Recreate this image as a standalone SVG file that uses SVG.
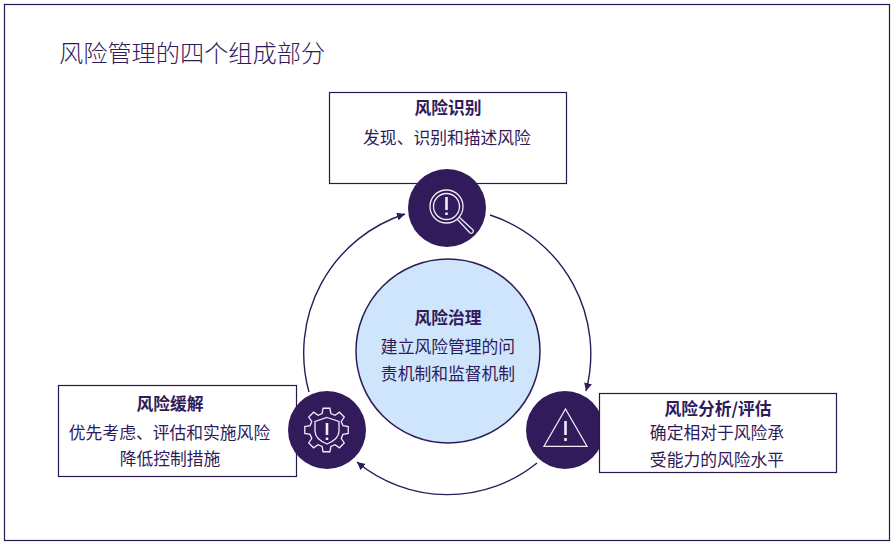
<svg xmlns="http://www.w3.org/2000/svg" width="896" height="544" viewBox="0 0 896 544">
<style>
text{font-family:"Noto Sans CJK SC","Noto Sans",sans-serif;fill:#2f1a5a;text-anchor:middle;font-size:16.8px}
.h{font-weight:700}
.t{text-anchor:start;font-size:24.2px;font-weight:300}
.box{fill:#fff;stroke:#2a1650;stroke-width:1.2}
.dot{fill:#311b5b}
.ic{fill:none;stroke:#f1ecf8;stroke-width:1.3}
.mk{fill:none;stroke:#f1ecf8;stroke-width:2.6}
.arc{fill:none;stroke:#2f1a5a;stroke-width:1.4;marker-end:url(#a)}
</style>
<defs><marker id="a" markerUnits="userSpaceOnUse" markerWidth="10" markerHeight="10" refX="8" refY="4" orient="auto"><path d="M0 0L8 4L0 8Z" fill="#2f1a5a"/></marker></defs>
<rect width="896" height="544" fill="#fff"/>
<rect x="4.500" y="4.500" width="885" height="536" fill="none" stroke="#2a1650" stroke-width="1.2"/>
<text class="t" x="59" y="62">风险管理的四个组成部分</text>
<g id="connectors">
<path class="arc" d="M490 215A146 146 0 0 1 586 391"/>
<path class="arc" d="M537 463A142 142 0 0 1 357 462"/>
<path class="arc" d="M309 392A146 146 0 0 1 405 214"/>
</g>
<g id="governance">
<circle cx="448" cy="351" r="92" fill="#cfe5fb" stroke="#2f1a5a" stroke-width="1.5"/>
<text class="h" x="448" y="324">风险治理</text>
<text x="448" y="353">建立风险管理的问</text>
<text x="448" y="380">责机制和监督机制</text>
</g>
<g id="identify">
<rect class="box" x="329.500" y="92.500" width="237" height="91"/>
<text class="h" x="448" y="114">风险识别</text>
<text x="447" y="144">发现、识别和描述风险</text>
<circle class="dot" cx="447" cy="208" r="39"/>
<circle class="ic" cx="446.500" cy="206.500" r="16.500"/>
<circle class="ic" cx="446.500" cy="206.500" r="13"/>
<path class="ic" d="M457 219L470 233Q472 234 473 232Q474 230 472 229L459 217"/>
<path class="mk" d="M446.500 197V210M446.500 212.500V215"/>
</g>
<g id="analysis">
<circle class="dot" cx="565" cy="430" r="39"/>
<path class="ic" d="M565.500 409L587 446.300H544Z"/>
<path class="mk" d="M565.500 421V435M565.500 438V441"/>
<rect class="box" x="599.500" y="393.500" width="237" height="79"/>
<text class="h" x="718" y="415">风险分析/评估</text>
<text x="717" y="439">确定相对于风险承</text>
<text x="717" y="466">受能力的风险水平</text>
</g>
<g id="mitigation">
<rect class="box" x="58.500" y="385.500" width="238" height="91"/>
<text class="h" x="170" y="410">风险缓解</text>
<text x="169.500" y="439">优先考虑、评估和实施风险</text>
<text x="170" y="465">降低控制措施</text>
<circle class="dot" cx="327" cy="430" r="39"/>
<path class="ic" transform="translate(326.500 430)" d="M-4.400-16.400L-3.440-21.730H3.440L4.400-16.400L8.500-14.720L12.930-17.800L17.800-12.930L14.720-8.500L16.420-4.400L21.730-3.440V3.440L16.420 4.400L14.720 8.500L17.800 12.930L12.930 17.800L8.500 14.720L4.400 16.400L3.440 21.730H-3.440L-4.400 16.400L-8.500 14.720L-12.930 17.800L-17.800 12.930L-14.720 8.500L-16.420 4.400L-21.730 3.440V-3.440L-16.420-4.400L-14.720-8.500L-17.800-12.930L-12.930-17.800L-8.500-14.720Z"/>
<path class="ic" d="M327 417.500L339 421.500V431Q339 439 327 444Q315 439 315 431V421.500Z"/>
<path class="mk" d="M327 423V435M327 437.500V440"/>
</g>
</svg>
